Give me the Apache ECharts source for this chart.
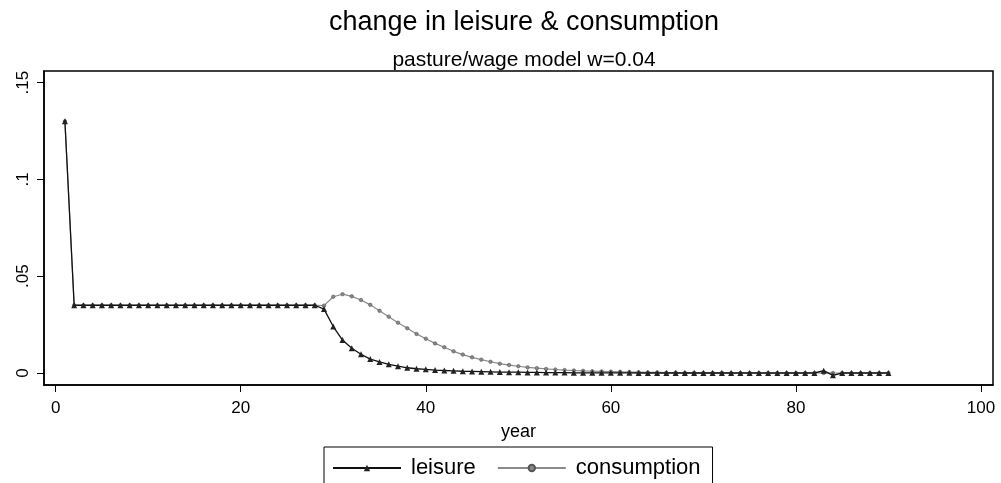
<!DOCTYPE html>
<html>
<head>
<meta charset="utf-8">
<script src="https://cdn.jsdelivr.net/npm/echarts@6/dist/echarts.min.js"></script>
<style>
  html, body { margin: 0; padding: 0; background: #fff; }
  #chart { width: 1001px; height: 483px; }
</style>
</head>
<body>
<div id="chart"></div>
<script>
// years 1..90
const years = [
  1, 2, 3, 4, 5, 6, 7, 8, 9, 10, 11, 12, 13, 14, 15, 16, 17, 18, 19, 20,
  21, 22, 23, 24, 25, 26, 27, 28, 29, 30, 31, 32, 33, 34, 35, 36, 37, 38, 39, 40,
  41, 42, 43, 44, 45, 46, 47, 48, 49, 50, 51, 52, 53, 54, 55, 56, 57, 58, 59, 60,
  61, 62, 63, 64, 65, 66, 67, 68, 69, 70, 71, 72, 73, 74, 75, 76, 77, 78, 79, 80,
  81, 82, 83, 84, 85, 86, 87, 88, 89, 90
]

const leisure = [
  0.13, 0.035, 0.035, 0.035, 0.035, 0.035, 0.035, 0.035, 0.035, 0.035,
  0.035, 0.035, 0.035, 0.035, 0.035, 0.035, 0.035, 0.035, 0.035, 0.035,
  0.035, 0.035, 0.035, 0.035, 0.035, 0.035, 0.035, 0.035, 0.033, 0.024,
  0.017, 0.0128, 0.0097, 0.0072, 0.0057, 0.0045, 0.0035, 0.0027, 0.0022, 0.0019,
  0.0015, 0.0013, 0.0011, 0.0009, 0.0008, 0.0007, 0.0006, 0.0005, 0.0004, 0.0004,
  0.0003, 0.0003, 0.0002, 0.0002, 0.0002, 0.0001, 0.0001, 0.0001, 0.0001, 0.0001,
  0.0001, 0.0001, 0, 0, 0, 0, 0, 0, 0, 0,
  0, 0, 0, 0, 0, 0, 0, 0, 0, 0,
  0, 0, 0.0012, -0.0012, 0, 0, 0, 0, 0, 0
]

const consumption = [
  0.13, 0.035, 0.035, 0.035, 0.035, 0.035, 0.035, 0.035, 0.035, 0.035,
  0.035, 0.035, 0.035, 0.035, 0.035, 0.035, 0.035, 0.035, 0.035, 0.035,
  0.035, 0.035, 0.035, 0.035, 0.035, 0.035, 0.035, 0.035, 0.0348, 0.0394,
  0.0407, 0.0396, 0.0377, 0.0352, 0.0321, 0.0291, 0.026, 0.0231, 0.0202, 0.0177,
  0.0153, 0.0133, 0.0112, 0.0095, 0.0081, 0.0069, 0.0058, 0.0048, 0.0041, 0.0035,
  0.0029, 0.0025, 0.0021, 0.0018, 0.0015, 0.0013, 0.0011, 0.0009, 0.0008, 0.0007,
  0.0006, 0.0005, 0.0004, 0.0003, 0.0003, 0.0002, 0.0002, 0.0001, 0.0001, 0.0001,
  0.0001, 0.0001, 0, 0, 0, 0, 0, 0, 0, 0,
  0, 0, 0, 0, 0, 0, 0, 0, 0, 0
]

const xTicks = [0, 20, 40, 60, 80, 100]
const yTicks = [0, 0.05, 0.1, 0.15]
const yTickLabels = ['0', '.05', '.1', '.15']

const font = '"Liberation Sans", Arial, Helvetica, sans-serif'

const chart = echarts.init(document.getElementById('chart'))

chart.setOption({
  backgroundColor: '#fff',
  animation: false,
  textStyle: { fontFamily: font, color: '#000' },
  title: [
    {
      text: 'change in leisure & consumption',
      left: 519, top: 4, textAlign: 'center',
      textStyle: { fontSize: 27, fontWeight: 'normal', color: '#000', fontFamily: font }
    },
    {
      text: 'pasture/wage model w=0.04',
      left: 519, top: 45, textAlign: 'center',
      textStyle: { fontSize: 21, fontWeight: 'normal', color: '#000', fontFamily: font }
    }
  ],
  grid: {
    left: 44, right: 8, top: 71, bottom: 98,
    show: true, borderColor: '#000', borderWidth: 1.5
  },
  legend: {
    left: 324, top: 447,
    padding: [10, 12, 20, 8],
    itemGap: 21,
    itemWidth: 68, itemHeight: 8,
    borderColor: '#000', borderWidth: 1,
    textStyle: { fontSize: 22, color: '#000', fontFamily: font, padding: [0, 0, 0, 5] },
    data: ['leisure', 'consumption']
  },
  xAxis: {
    type: 'value',
    min: -1.26, max: 101.3,
    name: 'year', nameLocation: 'middle', nameGap: 38,
    nameTextStyle: { fontSize: 18, color: '#000', fontFamily: font },
    axisLine: { show: true, onZero: false, lineStyle: { color: '#000', width: 1.5 } },
    axisTick: { show: true, customValues: xTicks, length: 7, lineStyle: { color: '#000' } },
    axisLabel: { customValues: xTicks, margin: 15, fontSize: 17, color: '#000', fontFamily: font },
    splitLine: { show: false }
  },
  yAxis: {
    type: 'value',
    min: -0.0062, max: 0.156,
    axisLine: { show: true, onZero: false, lineStyle: { color: '#000', width: 1.5 } },
    axisTick: { show: true, customValues: yTicks, length: 7, lineStyle: { color: '#000' } },
    axisLabel: {
      customValues: yTicks, rotate: 90, margin: 12, fontSize: 17, color: '#000', fontFamily: font,
      formatter: v => {
        const i = yTicks.findIndex(t => Math.abs(t - v) < 1e-9)
        return i >= 0 ? yTickLabels[i] : ''
      }
    },
    splitLine: { show: false }
  },
  series: [
    {
      name: 'consumption',
      type: 'line',
      data: years.map((y, i) => [y, consumption[i]]),
      symbol: 'circle', symbolSize: 3.5,
      lineStyle: { color: '#8a8a8a', width: 1.2 },
      itemStyle: { color: '#888', borderColor: '#555', borderWidth: 0.6 },
      z: 2
    },
    {
      name: 'leisure',
      type: 'line',
      data: years.map((y, i) => [y, leisure[i]]),
      symbol: 'triangle', symbolSize: 6,
      lineStyle: { color: '#111', width: 1.3 },
      itemStyle: { color: '#222' },
      z: 3
    }
  ]
})
</script>
</body>
</html>
